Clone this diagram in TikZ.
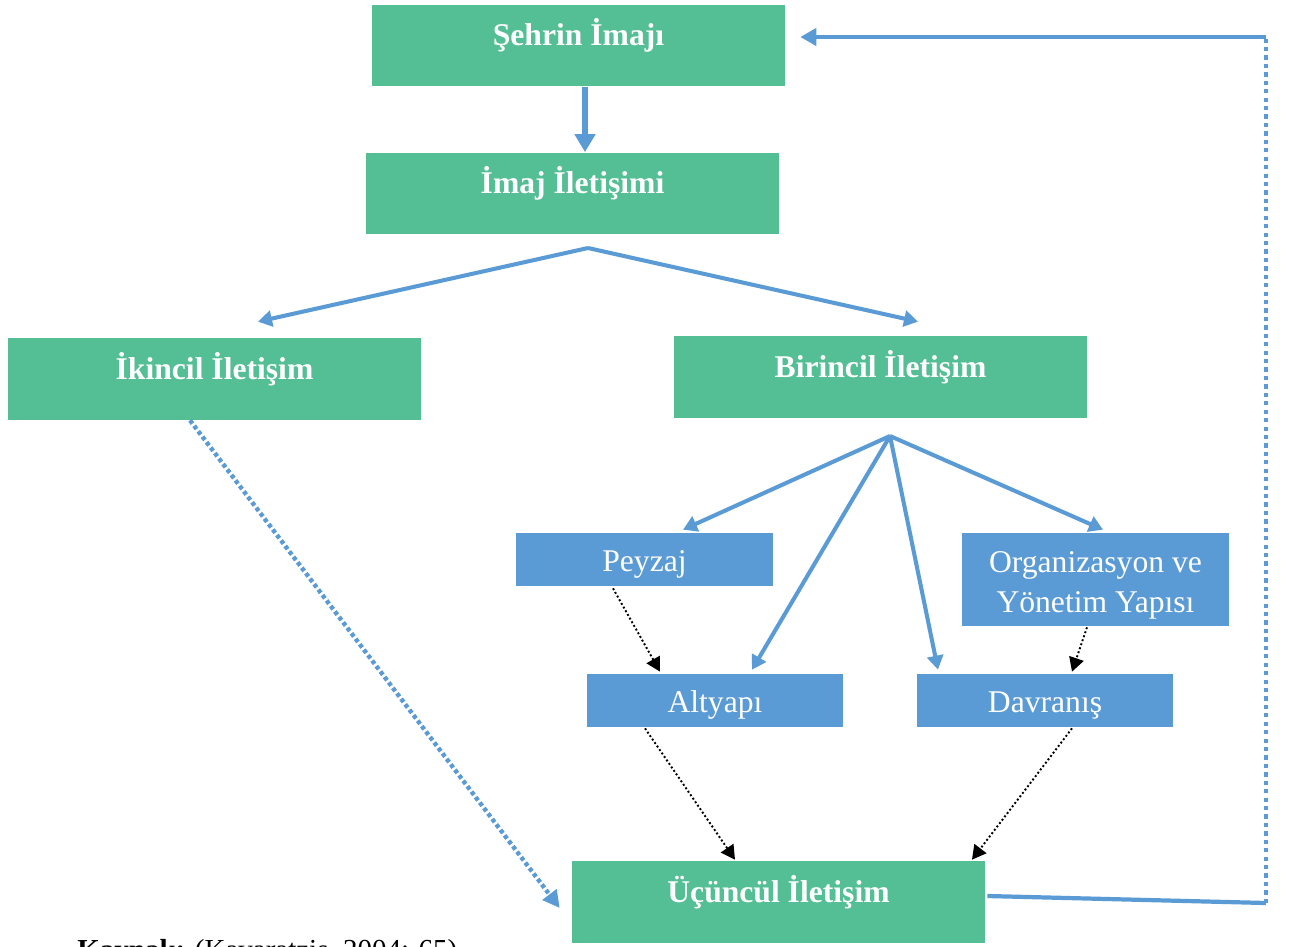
\documentclass[tikz,border=0pt]{standalone}
\usepackage{fontspec}
\setmainfont{Liberation Serif}
\usetikzlibrary{arrows.meta,calc}
\definecolor{boxgreen}{RGB}{84,190,148}
\definecolor{boxblue}{RGB}{91,155,213}

\begin{document}
\begin{tikzpicture}[x=0.02cm, y=-0.02cm,
		mainbox/.style={fill=boxgreen, text=white, font=\fontsize{18}{22.8}\selectfont\bfseries, minimum width=8.26cm, minimum height=1.64cm, inner sep=0pt, text height=0.4cm, text depth=0.4cm},
		subbox/.style={fill=boxblue, text=white, font=\fontsize{18}{22.8}\selectfont, minimum width=5.14cm, minimum height=1.06cm, inner sep=0pt, align=center},
		subline/.style={subbox, text height=0.62cm, text depth=0.14cm},
		flow/.style={draw=boxblue, line width=2.3pt, -{Triangle[length=0.28cm,width=0.32cm]}},
		link/.style={draw=black, line width=1.1pt, dash pattern=on 1.1pt off 1.3pt, -{Triangle[length=0.28cm,width=0.3cm]}},
		secondary/.style={draw=boxblue, line width=2.5pt, dash pattern=on 2.3pt off 1.6pt, -{Triangle[length=0.34cm,width=0.34cm]}},
		loopline/.style={draw=boxblue, line width=2.4pt}]
			\path[use as bounding box, fill=white] (0, 0) rectangle (1292, 947);
			% boxes
			\node[mainbox] (sehir) at (578.5, 45.5) {Şehrin İmajı};
			\node[mainbox] (imaj) at (572.5, 193.5) {İmaj İletişimi};
			\node[mainbox] (ikincil) at (214.5, 379) {İkincil İletişim};
			\node[mainbox] (birincil) at (880.5, 377) {Birincil İletişim};
			\node[mainbox] (ucuncul) at (778.5, 902) {Üçüncül İletişim};

			\node[subline] (peyzaj) at (644.5, 559.5) {Peyzaj};
			\node[subbox, minimum width=5.34cm, minimum height=1.86cm, text height=1.47cm] (orgyapi) at (1095.5, 579.5) {Organizasyon ve\\Yönetim Yapısı};
			\node[subline] (altyapi) at (715, 700.5) {Altyapı};
			\node[subline] (davranis) at (1045, 700.5) {Davranış};

			% branch points
			\coordinate (split) at (588, 248);
			\coordinate (fan) at (890, 436);
			\coordinate (loopa) at (1266, 903);
			\coordinate (loopb) at (1266, 37);

			\draw[flow, line width=3.2pt, -{Triangle[length=0.36cm,width=0.4cm]}] ([xshift=0.13cm]sehir.south) -- ([xshift=0.13cm]sehir.south |- imaj.north);

			\draw[flow] (split) -- ($(ikincil.north)+(43.5, -16)$);
			\draw[flow] (split) -- ($(birincil.north)+(37.5, -14)$);

			\draw[flow] (fan) -- ($(peyzaj.north)+(38.5, -3)$);
			\draw[flow] (fan) -- ($(altyapi.north)+(37, -4)$);
			\draw[flow] (fan) -- ($(davranis.north)+(-107, -4)$);
			\draw[flow] (fan) -- ($(orgyapi.north)+(7.5, -3)$);

			% dotted links
			\draw[link] ($(peyzaj.south)+(-31.5, 2)$) -- ($(altyapi.north)+(-55, -2)$);
			\draw[link] ($(orgyapi.south)+(-8.5, 1)$) -- ($(davranis.north)+(27, -2)$);
			\draw[link] ($(altyapi.south)+(-70, 1)$) -- ($(ucuncul.north)+(-43.5, -1)$);
			\draw[link] ($(davranis.south)+(27, 1)$) -- ($(ucuncul.north)+(193.5, -1)$);

			\draw[secondary] ($(ikincil.south)+(-24.5, 0)$) -- ($(ucuncul.west)+(-12, 6)$);

			% feedback
			\draw[loopline] ($(ucuncul.east)+(2, -6)$) -- (loopa);
			\draw[loopline, dash pattern=on 2.4pt off 2.4pt] (loopa) -- (loopb);
			\draw[loopline, -{Triangle[length=0.32cm,width=0.34cm]}] (loopb) -- ($(sehir.east)+(15, -8.5)$);

			\node[anchor=base west, font=\fontsize{16.5}{20}\selectfont, inner sep=0pt] (kaynak) at (77, 959) {\textbf{Kaynak:} (Kavaratzis, 2004: 65)};
		\end{tikzpicture}
\end{document}
